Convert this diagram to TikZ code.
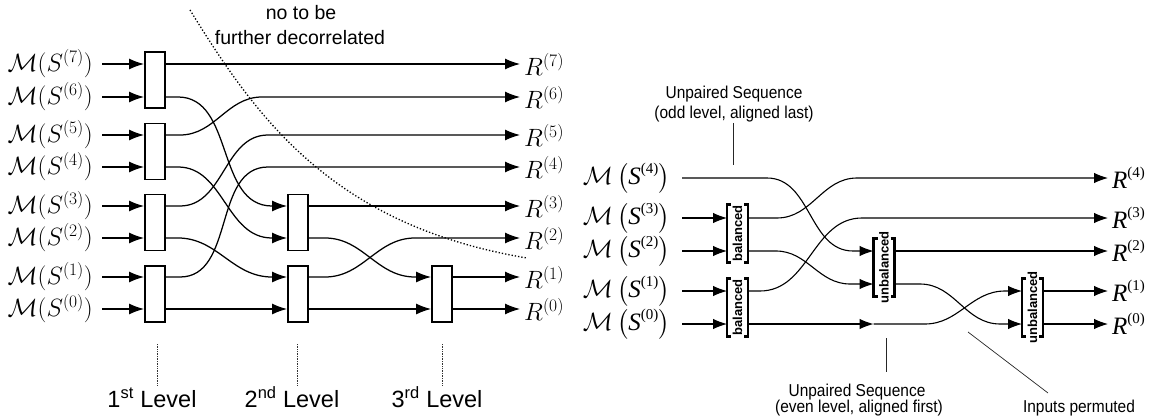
\RequirePackage{fix-cm}
\documentclass[tikz,border=0pt]{standalone}
\usepackage{amsmath}
\usepackage{fontspec}
\setsansfont{Liberation Sans}
\newfontfamily\timesf{Liberation Serif}
\newfontfamily\annfont[FakeStretch=0.9]{Liberation Sans}
\usetikzlibrary{arrows.meta}
\newcommand\mlabr[1]{$\mathcal{M}\left(\mbox{\timesf\itshape S}\raisebox{11pt}{\timesf\fontsize{15}{15}\selectfont(#1)}\right)$}
\newcommand\rlabr[1]{{\timesf\itshape R}\raisebox{11pt}{\timesf\fontsize{15}{15}\selectfont(#1)}}
\begin{document}
\begin{tikzpicture}[x=1pt,y=-1pt,
  arr/.style={line width=1.25pt,-{Latex[length=15pt,width=11pt]}},
  arrR/.style={line width=1.1pt,-{Latex[length=14pt,width=10.5pt]}},
  lbox/.style={draw,line width=1.9pt,fill=white,minimum width=20pt,minimum height=56pt,inner sep=0pt},
  brk/.style={minimum width=21pt,minimum height=58pt,inner sep=0pt,outer sep=0pt},
  brkline/.style={line width=2.4pt},
  brktext/.style={rotate=90,font=\sffamily\bfseries\fontsize{13}{13}\selectfont,inner sep=0pt},
  mlab/.style={font=\fontsize{25}{30}\selectfont,inner sep=0pt},
  lvl/.style={densely dotted,line width=0.7pt,black!80},
  lvltext/.style={font=\sffamily\fontsize{23.5}{28}\selectfont,inner sep=0pt},
  ann/.style={font=\annfont\fontsize{17.2}{20}\selectfont,inner sep=0pt,anchor=base},
  note/.style={line width=0.7pt,black!85},
  curvedot/.style={dotted,line width=1.3pt}
]
\useasboundingbox (0,0) rectangle (1161,417);

% ---------------- left network ----------------
\node[lbox] (A1) at (155,80) {};
\node[lbox] (A2) at (155,151.5) {};
\node[lbox] (A3) at (155,222.5) {};
\node[lbox] (A4) at (155,294) {};
\node[lbox] (B1) at (298,222.5) {};
\node[lbox] (B2) at (298,294) {};
\node[lbox] (C1) at (442,294) {};

\foreach \n/\y in {7/64,6/97,5/135,4/167,3/206,2/238,1/277,0/309} {
  \node[mlab,anchor=east] (m\n) at (93,\y) {$\mathcal{M}(S^{(\n)})$};
  \coordinate (i\n) at (102,\y);
  \coordinate (o\n) at (520,\y);
  \node[mlab,anchor=west] (r\n) at (524,\y) {$R^{(\n)}$};
  \draw[arr] (i\n) -- (i\n -| A1.west);
}

% level 1 outputs
\draw[arr] (i7 -| A1.east) -- (o7);
\draw[arr] (i6 -| A1.east) -- (178,97) to[out=0,in=180] (272,206) -- (i3 -| B1.west);
\draw[arr] (i5 -| A2.east) -- (180,135) to[out=0,in=180] (262,97) -- (o6);
\draw[arr] (i4 -| A2.east) -- (178,167) to[out=0,in=180] (272,238) -- (i2 -| B1.west);
\draw[arr] (i3 -| A3.east) -- (180,206) to[out=0,in=180] (268,135) -- (o5);
\draw[arr] (i2 -| A3.east) -- (178,238) to[out=0,in=180] (272,277) -- (i1 -| B2.west);
\draw[arr] (i1 -| A4.east) -- (180,277) to[out=0,in=180] (268,167) -- (o4);
\draw[arr] (i0 -| A4.east) -- (i0 -| B2.west);
% level 2 outputs
\draw[arr] (i3 -| B1.east) -- (o3);
\draw[arr] (i2 -| B1.east) -- (325,238) to[out=0,in=180] (415,277) -- (i1 -| C1.west);
\draw[arr] (i1 -| B2.east) -- (325,277) to[out=0,in=180] (415,238) -- (o2);
\draw[arr] (i0 -| B2.east) -- (i0 -| C1.west);
% level 3 outputs
\draw[arr] (i1 -| C1.east) -- (o1);
\draw[arr] (i0 -| C1.east) -- (o0);

% boundary curve and its label
\coordinate (dc0) at (190,10);
\coordinate (dc1) at (527,258);
\draw[curvedot] (dc0) .. controls (255,115) and (330,225) .. (dc1);
\node[ann,font=\sffamily\fontsize{19.5}{23}\selectfont] (nt1) at (301,20) {no to be};
\node[ann,font=\sffamily\fontsize{19.5}{23}\selectfont] (nt2) at (300,45) {further decorrelated};

% levels
\foreach \k/\x/\t in {1/157/st,2/297/nd,3/442/rd} {
  \coordinate (lt\k) at (\x,344);
  \coordinate (lb\k) at (\x,385);
  \draw[lvl] (lt\k) -- (lb\k);
  \node[lvltext,anchor=base] (lv\k) at (\x-5,407) {\k\textsuperscript{\t} Level};
}

% ---------------- right network ----------------
\node[brk] (P1) at (737.5,233.5) {};
\node[brk] (P2) at (737.5,307.5) {};
\node[brk] (U1) at (884,267.5) {};
\node[brk] (U2) at (1032.5,307.5) {};
\foreach \b in {P1,P2,U1,U2} {
  \draw[brkline] ([xshift=4pt]\b.north west) -- (\b.north west) -- (\b.south west) -- ([xshift=4pt]\b.south west);
  \draw[brkline] ([xshift=-4pt]\b.north east) -- (\b.north east) -- (\b.south east) -- ([xshift=-4pt]\b.south east);
}
\node[brktext] (P1t) at (P1) {balanced};
\node[brktext] (P2t) at (P2) {balanced};
\node[brktext] (U1t) at (U1) {unbalanced};
\node[brktext] (U2t) at (U2) {unbalanced};

\foreach \n/\y in {4/178,3/218,2/251,1/291,0/324} {
  \node[mlab,anchor=east] (M\n) at (670,\y) {\mlabr{\n}};
  \coordinate (s\n) at (682,\y);
  \coordinate (t\n) at (1108,\y);
  \node[mlab,anchor=west] (R\n) at (1112,\y) {\rlabr{\n}};
}
\coordinate (ub) at (682,284);

\draw[arrR] (s4) -- (767,178) to[out=0,in=180] (853,251) -- (s2 -| U1.west);
\draw[arrR] (s3) -- (s3 -| P1.west);
\draw[arrR] (s2) -- (s2 -| P1.west);
\draw[arrR] (s1) -- (s1 -| P2.west);
\draw[arrR] (s0) -- (s0 -| P2.west);
\draw[arrR] (s3 -| P1.east) -- (777,218) to[out=0,in=180] (857,178) -- (t4);
\draw[arrR] (s2 -| P1.east) -- (776,251) to[out=0,in=180] (850,284) -- (ub -| U1.west);
\draw[arrR] (s1 -| P2.east) -- (760,291) to[out=0,in=180] (862,218) -- (t3);
\draw[arrR] (s0 -| P2.east) -- (s0 -| U1.west);
\draw[arrR] (s0 -| U1.west) -- (925,324) to[out=0,in=180] (1005,291) -- (s1 -| U2.west);
\draw[arrR] (s2 -| U1.east) -- (t2);
\draw[arrR] (ub -| U1.east) -- (920,284) to[out=0,in=180] (1000,324) -- (s0 -| U2.west);
\draw[arrR] (s1 -| U2.east) -- (t1);
\draw[arrR] (s0 -| U2.east) -- (t0);

% annotations
\node[ann] (odd1) at (734,99) {Unpaired Sequence};
\node[ann] (odd2) at (734,119) {(odd level, aligned last)};
\coordinate (oddtip) at (733,165);
\draw[note] (odd2.south -| oddtip) -- (oddtip);

\node[ann] (ev1) at (857,396) {Unpaired Sequence};
\node[ann] (ev2) at (859,412) {(even level, aligned first)};
\coordinate (evtop) at (886,338);
\coordinate (evbot) at (886,372);
\draw[note] (evtop) -- (evbot);

\node[ann] (ip) at (1079,412) {Inputs permuted};
\coordinate (iptop) at (968,332);
\coordinate (ipbot) at (1048,393);
\draw[note] (iptop) -- (ipbot);
\end{tikzpicture}
\end{document}
